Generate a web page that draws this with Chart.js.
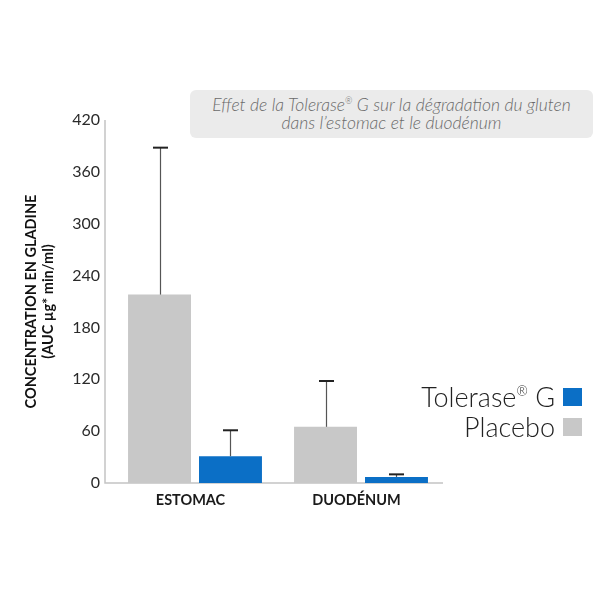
<!DOCTYPE html>
<html>
<head>
<meta charset="utf-8">
<script src="https://cdn.jsdelivr.net/npm/chart.js@4/dist/chart.umd.min.js"></script>
<style>
  html, body { margin: 0; padding: 0; background: #fff; }
  #wrap { position: relative; width: 600px; height: 600px; overflow: hidden; }
  #c { position: absolute; left: 0; top: 0; }
  #titlebox {
    position: absolute; left: 190px; top: 90px; width: 403px; height: 48px;
    background: #ebebeb; border-radius: 6px;
    font-family: Lato, "Open Sans", sans-serif; font-style: italic; font-weight: 300;
    font-size: 17.5px; line-height: 18px; color: #6a6a6a; text-align: center;
    box-sizing: border-box; padding-top: 6px;
  }
  .leg { position: absolute; right: 18px; font-family: Lato, "Open Sans", sans-serif;
    font-weight: 300; font-size: 27px; line-height: 30px; color: #222; display: flex; align-items: center; }
  .leg span.box { display: inline-block; width: 19px; height: 18px; margin-left: 8px; }
  sup { font-size: 50%; line-height: 0; vertical-align: 0; position: relative; top: -0.8em; }
</style>
</head>
<body>
<div id="wrap">
  <canvas id="c" width="600" height="600"></canvas>
  <div id="titlebox">Effet de la Tolerase<sup>®</sup> G sur la dégradation du gluten<br>dans l’estomac et le duodénum</div>
  <div class="leg" style="top:382px;"><span>Tolerase<sup>®</sup> G</span><span class="box" style="background:#0b6fc6"></span></div>
  <div class="leg" style="top:412px;"><span>Placebo</span><span class="box" style="background:#c8c8c8"></span></div>
</div>
<script>
const categories = ["ESTOMAC", "DUODÉNUM"];
const placeboValues = [218, 65];
const placeboErrorTop = [388, 118];
const toleraseValues = [31, 7];
const toleraseErrorTop = [61, 10];
const yTicks = [0, 60, 120, 180, 240, 300, 360, 420];

const errorBars = {
  id: 'errorBars',
  beforeDatasetsDraw(chart) {
    const { ctx, chartArea } = chart;
    ctx.save();
    ctx.strokeStyle = '#c4c4c4';
    ctx.lineWidth = 1.5;
    ctx.beginPath();
    ctx.moveTo(chartArea.left - 7, chartArea.top);
    ctx.lineTo(chartArea.left - 7, chartArea.bottom);
    ctx.lineTo(chartArea.right - 1, chartArea.bottom);
    ctx.stroke();
    ctx.restore();
  },
  afterDatasetsDraw(chart) {
    const { ctx } = chart;
    const y = chart.scales.y;
    const errs = [placeboErrorTop, toleraseErrorTop];
    ctx.save();
    chart.data.datasets.forEach((ds, di) => {
      const meta = chart.getDatasetMeta(di);
      meta.data.forEach((bar, i) => {
        const x = Math.round(bar.x) + 0.5;
        const yTop = y.getPixelForValue(errs[di][i]);
        ctx.strokeStyle = '#555';
        ctx.lineWidth = 1.2;
        ctx.beginPath();
        ctx.moveTo(x, bar.y);
        ctx.lineTo(x, yTop);
        ctx.stroke();
        ctx.strokeStyle = '#222';
        ctx.lineWidth = 2;
        ctx.beginPath();
        ctx.moveTo(x - 7.5, yTop);
        ctx.lineTo(x + 7.5, yTop);
        ctx.stroke();
      });
    });
    ctx.restore();
  }
};

new Chart(document.getElementById('c'), {
  type: 'bar',
  data: {
    labels: categories,
    datasets: [
      { label: 'Placebo', data: placeboValues, backgroundColor: '#c8c8c8',
        barPercentage: 0.887, categoryPercentage: 0.855 },
      { label: 'Tolerase® G', data: toleraseValues, backgroundColor: '#0b6fc6',
        barPercentage: 0.887, categoryPercentage: 0.855 }
    ]
  },
  options: {
    responsive: false,
    animation: false,
    devicePixelRatio: 1,
    layout: { padding: { top: 120, left: 0, right: 156, bottom: 77 } },
    plugins: { legend: { display: false }, tooltip: { enabled: false } },
    scales: {
      x: {
        grid: { display: false, drawTicks: false },
        border: { display: false },
        ticks: { color: '#1a1a1a', padding: 9, labelOffset: -4.5,
          font: { family: 'Lato, "Open Sans", sans-serif', weight: 'bold', size: 14.5 } },
        afterFit(s) { s.height = 40; }
      },
      y: {
        min: 0, max: 420,
        afterBuildTicks(s) { s.ticks = yTicks.map(v => ({ value: v })); },
        grid: { display: false, drawTicks: false },
        border: { display: false },
        ticks: { color: '#2a2a2a', padding: 12,
          font: { family: 'Lato, "Open Sans", sans-serif', weight: 'normal', size: 16 } },
        title: {
          display: true,
          text: ['CONCENTRATION EN GLADINE', '(AUC µg* min/ml)'],
          color: '#111',
          padding: { top: 23, bottom: 0 },
          font: { family: 'Lato, "Open Sans", sans-serif', weight: 'bold', size: 14.5, lineHeight: 1.15 }
        },
        afterFit(s) { s.width = 112; }
      }
    }
  },
  plugins: [errorBars]
});
</script>
</body>
</html>
